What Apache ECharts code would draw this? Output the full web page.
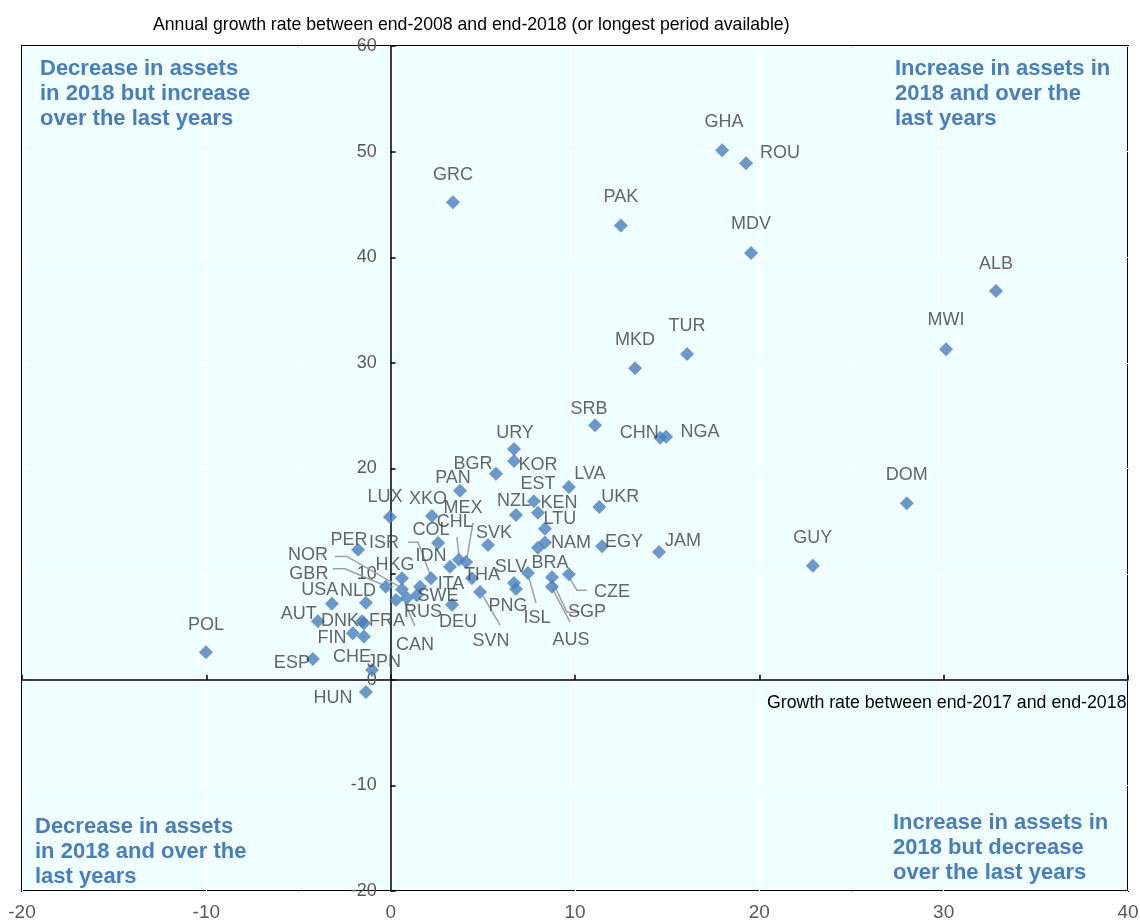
<!DOCTYPE html>
<html><head><meta charset="utf-8">
<script src="https://cdn.jsdelivr.net/npm/echarts@6/dist/echarts.min.js"></script>
<style>html,body{margin:0;padding:0;background:#fff}#c{width:1140px;height:923px}</style>
</head><body><div id="c"></div>
<script>
// ---- data ----
const countries = ['GHA','ROU','GRC','PAK','MDV','ALB','MWI','TUR','MKD','SRB','CHN','NGA','URY','KOR','BGR','PAN','LVA','EST','KEN','NZL','UKR','LTU','NAM','BRA','EGY','JAM','GUY','DOM','LUX','XKO','MEX','CHL','COL','SVK','ISR','PER','IDN','NOR','HKG','GBR','ITA','THA','SLV','USA','NLD','SWE','RUS','CAN','DEU','PNG','ISL','SVN','CZE','SGP','AUS','AUT','DNK','FRA','FIN','CHE','POL','ESP','JPN','HUN'];
const growth2018 = [17.98,19.28,3.38,12.49,19.55,32.84,30.13,16.08,13.26,11.09,14.62,14.94,6.69,6.69,5.71,3.76,9.67,7.77,7.99,6.8,11.32,8.37,8.37,7.99,11.47,14.56,22.9,28.0,-0.04,2.24,4.09,3.7,2.57,5.28,2.19,-1.77,3.22,0.61,0.61,-0.26,1.59,4.41,6.69,-3.19,-1.34,1.43,0.29,0.88,3.33,6.8,7.45,4.85,9.67,8.75,8.75,-3.95,-1.56,-1.45,-2.05,-1.45,-10.02,-4.22,-1.01,-1.34];
const growthLongTerm = [50.14,48.9,45.2,43.0,40.4,36.8,31.3,30.85,29.5,24.1,22.9,23.0,21.85,20.7,19.5,17.9,18.25,16.9,15.8,15.6,16.35,14.3,13.0,12.5,12.65,12.1,10.8,16.7,15.4,15.5,11.15,11.35,12.95,12.75,9.6,12.3,10.7,8.55,9.6,8.8,8.8,9.6,9.15,7.2,7.3,8.0,7.55,7.75,7.1,8.6,10.1,8.3,10.0,9.7,8.8,5.55,5.55,5.35,4.4,4.1,2.6,1.96,0.92,-1.17];
const xTicks = [-20,-10,0,10,20,30,40];
const yTicks = [-20,-10,0,10,20,30,40,50,60];
const quadrantTexts = {
  tl: 'Decrease in assets\nin 2018 but increase\nover the last years',
  tr: 'Increase in assets in\n2018 and over the\nlast years',
  bl: 'Decrease in assets\nin 2018 and over the\nlast years',
  br: 'Increase in assets in\n2018 but decrease\nover the last years'
};
const yTitle = 'Annual growth rate between end-2008 and end-2018 (or longest period available)';
const xTitle = 'Growth rate between end-2017 and end-2018';

// ---- layout (pixel offsets of labels relative to their markers) ----
const labelOffsets = {
  GHA:[2,-28],ROU:[34,-10],GRC:[0,-27],PAK:[0,-29],MDV:[0,-29],ALB:[0,-27],MWI:[0,-29],TUR:[0,-28],MKD:[0,-28],
  SRB:[-6,-16],CHN:[-21,-5],NGA:[34,-5],URY:[1,-16],KOR:[24,4],BGR:[-23,-10],PAN:[-7,-13],LVA:[21,-13],EST:[4,-17],
  KEN:[21,-10],NZL:[-2,-14],UKR:[21,-10],LTU:[15,-10],NAM:[26,1],BRA:[12,15],EGY:[22,-4],JAM:[24,-11],GUY:[0,-28],
  DOM:[0,-28],LUX:[-5,-20],XKO:[-4,-17],COL:[-7,-13],SVK:[6,-12],PER:[-9,-10],IDN:[-19,-11],HKG:[-7,-13],THA:[10,-3],
  SLV:[-3,-16],USA:[-12,-14],NLD:[-8,-12],DEU:[6,17],PNG:[-8,17],AUT:[-19,-7],FIN:[-21,5],CHE:[-12,21],POL:[0,-27],
  ESP:[-21,4],JPN:[12,-8],HUN:[-33,6],DNK:[-22,0],FRA:[23,-2],ITA:[31,-3],SWE:[21,1],RUS:[27,12],
  MEX:[-3,-54],CHL:[-4,-38],ISR:[-47,-35],NOR:[-94,-34],GBR:[-77,-13],ISL:[9,45],SVN:[11,49],CZE:[43,18],
  SGP:[35,35],AUS:[19,53],CAN:[8,47]
};
const leaders = {
  MEX:[[7,-39],[1,-5]], CHL:[[-2,-23],[0,-5]], ISR:[[-23,-36],[-13,-36],[-1,-4]],
  NOR:[[-67,-33],[-55,-33],[-3,-3]], GBR:[[-53,-18],[-41,-18],[-3,-2]],
  ISL:[[1,5],[8,30]], SVN:[[3,4],[20,33]], CZE:[[0,3],[8,16],[18,16]],
  SGP:[[0,3],[15,35],[28,35]], AUS:[[0,1],[18,35]], CAN:[[-2,5],[8,28]]
};

const SANS = "'Liberation Sans',Arial,sans-serif";
const BLUE = '#4A7EBB';
const GRID = { left: 22, top: 46, right: 12, bottom: 32 };
const W = 1140;
const xMin = xTicks[0], xMax = xTicks[xTicks.length - 1];
// distance from the plot's left edge to x = 0, so the y-axis labels sit beside the zero line
const zeroOffset = (0 - xMin) / (xMax - xMin) * (W - GRID.left - GRID.right);

const scatterData = countries.map((c, i) => ({
  name: c,
  value: [growth2018[i], growthLongTerm[i]],
  label: { offset: labelOffsets[c] || [0, -28] }
}));
const leaderNames = Object.keys(leaders);
const leaderData = leaderNames.map(c => {
  const i = countries.indexOf(c);
  return [growth2018[i], growthLongTerm[i]];
});

const chart = echarts.init(document.getElementById('c'), null, { renderer: 'canvas' });
const qStyle = { fontSize: 22, fontWeight: 'bold', fontFamily: SANS, fill: BLUE, lineHeight: 25 };
chart.setOption({
  animation: false,
  backgroundColor: '#fff',
  grid: Object.assign({ show: true, backgroundColor: '#F0FFFF', borderColor: '#000', borderWidth: 2,
    containLabel: false, outerBoundsMode: 'none' }, GRID),
  xAxis: [
    { type: 'value', min: xMin, max: xMax, interval: 10, position: 'bottom',
      axisLine: { show: true, onZero: true, lineStyle: { color: '#000', width: 1.5 } },
      axisTick: { show: true, inside: true, length: 5, lineStyle: { color: '#000', width: 1.5 } },
      axisLabel: { color: '#595959', fontSize: 19, fontFamily: SANS, margin: 12 },
      splitLine: { show: true, lineStyle: { color: '#FFFFFF', width: 1 } } }
  ],
  yAxis: [
    { type: 'value', min: yTicks[0], max: yTicks[yTicks.length - 1], interval: 10, position: 'left',
      axisLine: { show: true, onZero: true, onZeroAxisIndex: 0, lineStyle: { color: '#000', width: 1.5 } },
      axisTick: { show: true, inside: true, length: 5, lineStyle: { color: '#000', width: 1.5 } },
      axisLabel: { show: false },
      splitLine: { show: true, lineStyle: { color: '#FFFFFF', width: 1 } } },
    { type: 'value', min: yTicks[0], max: yTicks[yTicks.length - 1], interval: 10, position: 'left',
      offset: -zeroOffset,
      axisLine: { show: false, onZero: false }, axisTick: { show: false },
      axisLabel: { color: '#595959', fontSize: 18, fontFamily: SANS, margin: 14 },
      splitLine: { show: false } }
  ],
  graphic: [
    { type: 'text', left: 153, top: 15, z: 10, scaleX: 0.93, style: { text: yTitle, fontSize: 19, fontFamily: SANS, fill: '#000' } },
    { type: 'text', left: 767, top: 693, z: 10, scaleX: 0.935, style: { text: xTitle, fontSize: 19, fontFamily: SANS, fill: '#000' } },
    { type: 'text', left: 40, top: 56, z: 10, style: Object.assign({ text: quadrantTexts.tl }, qStyle) },
    { type: 'text', left: 895, top: 56, z: 10, style: Object.assign({ text: quadrantTexts.tr }, qStyle) },
    { type: 'text', left: 35, top: 814, z: 10, style: Object.assign({ text: quadrantTexts.bl }, qStyle) },
    { type: 'text', left: 893, top: 810, z: 10, style: Object.assign({ text: quadrantTexts.br }, qStyle) }
  ],
  series: [
    { type: 'custom', xAxisIndex: 0, yAxisIndex: 0, z: 1, silent: true,
      data: leaderData,
      renderItem: function (params, api) {
        const p = api.coord([api.value(0), api.value(1)]);
        const rel = leaders[leaderNames[params.dataIndex]];
        return { type: 'polyline', shape: { points: rel.map(d => [p[0] + d[0], p[1] + d[1]]) },
                 style: { stroke: '#A0A0A0', lineWidth: 1.5, fill: null } };
      } },
    { type: 'scatter', xAxisIndex: 0, yAxisIndex: 0, z: 3, symbol: 'diamond', symbolSize: 14,
      itemStyle: { color: BLUE },
      label: { show: true, position: 'inside', formatter: '{b}', color: '#404040', fontSize: 18, fontFamily: SANS },
      data: scatterData }
  ]
});
</script></body></html>
